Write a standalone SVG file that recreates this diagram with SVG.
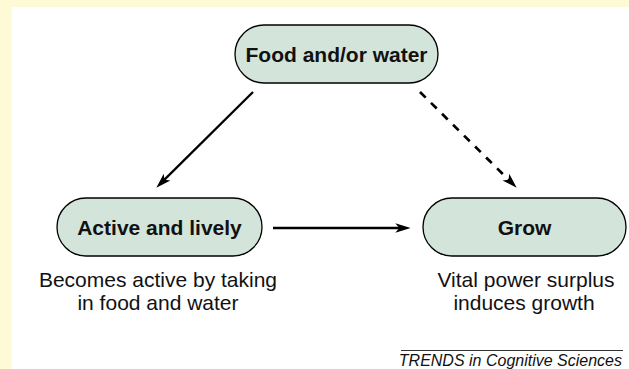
<svg xmlns="http://www.w3.org/2000/svg" width="629" height="369" viewBox="0 0 629 369">
<style>
.node{fill:#D3E5DA;stroke:#000;stroke-width:1.3}
.lbl{font-family:"Liberation Sans",Arial,sans-serif;font-size:21px;font-weight:bold;fill:#111;text-anchor:middle}
.cap{font-family:"Liberation Sans",Arial,sans-serif;font-size:21px;fill:#111;text-anchor:middle}
.conn{stroke:#000;stroke-width:2.3;fill:none}
.dash{stroke-dasharray:8 7.5;stroke-width:2.7}
.foot{font-family:"Liberation Sans",Arial,sans-serif;font-size:16px;font-style:italic;fill:#111;text-anchor:end}
</style>
<defs>
<marker id="arr" markerUnits="userSpaceOnUse" markerWidth="20" markerHeight="14" viewBox="-17 -7 21 14" refX="-8" refY="0" orient="auto" overflow="visible">
<path d="M0,0 L-16,-5 L-12,0 L-16,5 Z" fill="#000" stroke="none"/>
</marker>
</defs>
<rect x="0" y="0" width="629" height="369" fill="#FFFAD6"/>
<rect x="12" y="7" width="617" height="362" fill="#FFFFFF"/>
<g id="connectors">
<line class="conn" x1="253" y1="92" x2="161.7" y2="182.4" marker-end="url(#arr)"/>
<line class="conn dash" x1="420" y1="92" x2="511.3" y2="182.4" marker-end="url(#arr)"/>
<line class="conn" x1="273" y1="228" x2="403" y2="228" marker-end="url(#arr)"/>
</g>
<g id="food">
<rect class="node" x="235" y="25" width="203" height="58" rx="29" ry="29"/>
<text class="lbl" x="336.5" y="61.5">Food and/or water</text>
</g>
<g id="active">
<rect class="node" x="57" y="198" width="205" height="58" rx="29" ry="29"/>
<text class="lbl" x="159.5" y="234.5">Active and lively</text>
<text class="cap" x="158" y="287">Becomes active by taking</text>
<text class="cap" x="158" y="310">in food and water</text>
</g>
<g id="grow">
<rect class="node" x="423" y="198" width="203" height="58" rx="29" ry="29"/>
<text class="lbl" x="524.5" y="234.5">Grow</text>
<text class="cap" x="526" y="287">Vital power surplus</text>
<text class="cap" x="524" y="310">induces growth</text>
</g>
<g id="footer">
<line x1="401" y1="350.5" x2="623" y2="350.5" stroke="#333" stroke-width="1"/>
<text class="foot" x="622" y="366">TRENDS in Cognitive Sciences</text>
</g>
</svg>
